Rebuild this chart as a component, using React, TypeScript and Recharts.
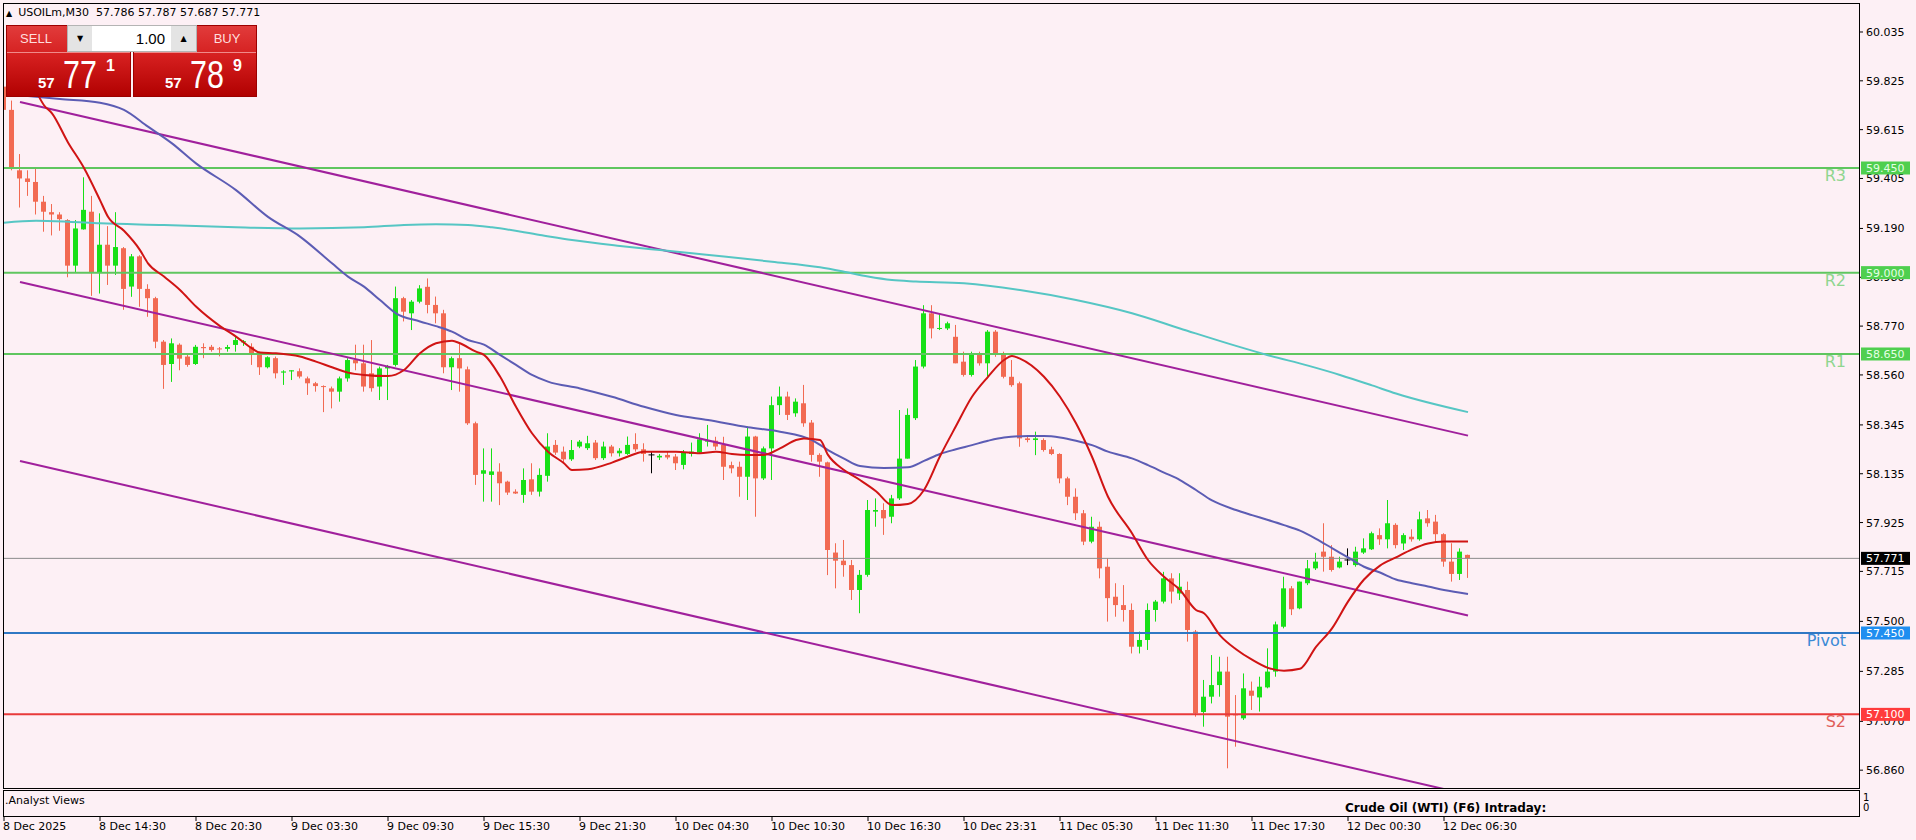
import React from 'react'
import { ComposedChart, Bar, Line, XAxis, YAxis, ReferenceLine } from 'recharts'

// USOILm M30 candles, bar 0 = 8 Dec 08:30
const OPEN = [
  59.80, 59.70, 59.44, 59.405, 59.39, 59.305, 59.26, 59.25, 59.226, 59.03,
  59.186, 59.262, 59.0, 59.12, 59.03, 59.105, 58.94, 59.07, 58.93, 58.89,
  58.703, 58.607, 58.69, 58.639, 58.607, 58.68, 58.681, 58.674, 58.672, 58.689,
  58.70, 58.681, 58.646, 58.593, 58.632, 58.57, 58.575, 58.576, 58.545, 58.524,
  58.512, 58.502, 58.488, 58.545, 58.624, 58.61, 58.567, 58.51, 58.588, 58.603,
  58.89, 58.825, 58.875, 58.939, 58.861, 58.825, 58.593, 58.632, 58.584, 58.352,
  58.135, 58.13, 58.144, 58.101, 58.058, 58.044, 58.111, 58.058, 58.126, 58.259,
  58.23, 58.197, 58.252, 58.245, 58.269, 58.202, 58.252, 58.223, 58.22, 58.263,
  58.24, 58.216, 58.205, 58.216, 58.209, 58.173, 58.22, 58.226, 58.273, 58.277,
  58.259, 58.172, 58.165, 58.122, 58.295, 58.115, 58.244, 58.43, 58.467, 58.395,
  58.438, 58.355, 58.216, 58.184, 57.796, 57.761, 57.742, 57.635, 57.70, 57.972,
  57.979, 57.95, 58.029, 58.20, 58.374, 58.596, 58.825, 58.76, 58.76, 58.724,
  58.617, 58.56, 58.646, 58.61, 58.746, 58.653, 58.552, 58.524, 58.287, 58.28,
  58.28, 58.24, 58.22, 58.115, 58.036, 57.965, 57.843, 57.907, 57.735, 57.606,
  57.57, 57.549, 57.391, 57.42, 57.549, 57.585, 57.685, 57.62, 57.635, 57.456,
  57.11, 57.176, 57.226, 57.284, 57.10, 57.083, 57.202, 57.173, 57.216, 57.284,
  57.477, 57.642, 57.556, 57.664, 57.728, 57.80, 57.778, 57.732, 57.764, 57.742,
  57.796, 57.81, 57.871, 57.853, 57.915, 57.835, 57.864, 57.853, 57.943, 57.929,
  57.875, 57.757, 57.704, 57.786,
]
const HIGH = [
  59.86, 59.74, 59.51, 59.44, 59.45, 59.33, 59.295, 59.26, 59.23, 59.226,
  59.41, 59.33, 59.255, 59.20, 59.26, 59.11, 59.08, 59.075, 58.95, 58.896,
  58.71, 58.717, 58.696, 58.646, 58.689, 58.696, 58.689, 58.68, 58.689, 58.725,
  58.71, 58.696, 58.66, 58.64, 58.639, 58.58, 58.58, 58.588, 58.553, 58.53,
  58.515, 58.51, 58.553, 58.632, 58.69, 58.69, 58.71, 58.596, 58.603, 58.94,
  58.896, 58.882, 58.946, 58.975, 58.897, 58.84, 58.639, 58.696, 58.596, 58.359,
  58.244, 58.244, 58.18, 58.105, 58.068, 58.158, 58.18, 58.158, 58.309, 58.28,
  58.252, 58.28, 58.28, 58.298, 58.28, 58.273, 58.259, 58.245, 58.295, 58.309,
  58.266, 58.23, 58.22, 58.23, 58.22, 58.237, 58.269, 58.309, 58.345, 58.294,
  58.294, 58.187, 58.187, 58.338, 58.298, 58.252, 58.467, 58.51, 58.488, 58.459,
  58.517, 58.366, 58.223, 58.187, 57.836, 57.85, 57.764, 57.721, 58.022, 58.029,
  58.008, 58.044, 58.409, 58.416, 58.624, 58.86, 58.86, 58.825, 58.789, 58.775,
  58.66, 58.66, 58.66, 58.753, 58.753, 58.66, 58.624, 58.531, 58.30, 58.316,
  58.287, 58.251, 58.223, 58.122, 58.072, 57.979, 57.95, 57.929, 57.771, 57.664,
  57.656, 57.577, 57.456, 57.577, 57.592, 57.713, 57.707, 57.707, 57.671, 57.463,
  57.248, 57.355, 57.348, 57.348, 57.183, 57.276, 57.241, 57.262, 57.384, 57.499,
  57.692, 57.652, 57.671, 57.764, 57.795, 57.922, 57.828, 57.778, 57.814, 57.821,
  57.857, 57.886, 57.90, 58.022, 57.922, 57.879, 57.896, 57.972, 57.979, 57.958,
  57.879, 57.836, 57.814, 57.787,
]
const LOW = [
  59.69, 59.44, 59.28, 59.33, 59.25, 59.176, 59.16, 59.18, 58.98, 59.0,
  59.185, 58.90, 58.91, 58.947, 58.99, 58.84, 58.896, 58.853, 58.81, 58.675,
  58.50, 58.53, 58.58, 58.595, 58.603, 58.632, 58.66, 58.64, 58.66, 58.66,
  58.685, 58.603, 58.56, 58.588, 58.545, 58.517, 58.538, 58.545, 58.474, 58.488,
  58.40, 58.416, 58.445, 58.531, 58.58, 58.488, 58.488, 58.452, 58.452, 58.596,
  58.79, 58.753, 58.868, 58.825, 58.782, 58.567, 58.495, 58.488, 58.345, 58.087,
  58.015, 58.015, 58.0, 58.044, 58.048, 58.01, 58.044, 58.037, 58.101, 58.216,
  58.18, 58.19, 58.245, 58.237, 58.194, 58.194, 58.209, 58.209, 58.216, 58.23,
  58.187, 58.137, 58.194, 58.197, 58.151, 58.154, 58.209, 58.22, 58.252, 58.237,
  58.108, 58.137, 58.036, 58.022, 57.95, 58.108, 58.108, 58.388, 58.366, 58.38,
  58.337, 58.187, 58.122, 57.699, 57.642, 57.692, 57.592, 57.535, 57.692, 57.907,
  57.872, 57.922, 58.022, 58.20, 58.366, 58.588, 58.717, 58.753, 58.753, 58.61,
  58.553, 58.553, 58.60, 58.552, 58.638, 58.545, 58.509, 58.251, 58.27, 58.215,
  58.23, 58.215, 58.094, 58.0, 57.936, 57.828, 57.836, 57.685, 57.499, 57.52,
  57.499, 57.362, 57.362, 57.377, 57.499, 57.577, 57.577, 57.592, 57.413, 57.09,
  57.047, 57.147, 57.176, 56.868, 56.961, 57.076, 57.119, 57.112, 57.212, 57.262,
  57.47, 57.527, 57.552, 57.656, 57.721, 57.714, 57.714, 57.728, 57.742, 57.735,
  57.79, 57.807, 57.829, 57.814, 57.814, 57.807, 57.843, 57.847, 57.907, 57.843,
  57.735, 57.671, 57.678, 57.687,
]
const CLOSE = [
  59.70, 59.45, 59.405, 59.39, 59.305, 59.262, 59.25, 59.23, 59.03, 59.19,
  59.27, 59.0, 59.12, 59.03, 59.11, 58.93, 59.07, 58.93, 58.89, 58.703,
  58.603, 58.696, 58.63, 58.603, 58.681, 58.675, 58.667, 58.67, 58.68, 58.71,
  58.705, 58.653, 58.593, 58.636, 58.567, 58.575, 58.58, 58.553, 58.524, 58.512,
  58.508, 58.488, 58.545, 58.624, 58.61, 58.51, 58.503, 58.588, 58.596, 58.89,
  58.832, 58.875, 58.932, 58.861, 58.825, 58.593, 58.632, 58.588, 58.352, 58.13,
  58.15, 58.145, 58.094, 58.054, 58.05, 58.108, 58.058, 58.13, 58.252, 58.226,
  58.197, 58.237, 58.273, 58.266, 58.202, 58.252, 58.223, 58.234, 58.259, 58.24,
  58.22, 58.216, 58.212, 58.205, 58.18, 58.226, 58.23, 58.283, 58.28, 58.252,
  58.165, 58.158, 58.122, 58.295, 58.115, 58.244, 58.43, 58.467, 58.388, 58.445,
  58.352, 58.216, 58.187, 57.807, 57.761, 57.742, 57.635, 57.70, 57.979, 57.979,
  57.943, 58.029, 58.20, 58.388, 58.596, 58.825, 58.76, 58.762, 58.782, 58.61,
  58.56, 58.653, 58.61, 58.746, 58.653, 58.552, 58.516, 58.287, 58.28, 58.287,
  58.237, 58.22, 58.115, 58.036, 57.965, 57.843, 57.907, 57.728, 57.60, 57.57,
  57.549, 57.391, 57.42, 57.549, 57.585, 57.685, 57.628, 57.649, 57.463, 57.104,
  57.176, 57.226, 57.284, 57.09, 57.098, 57.212, 57.18, 57.219, 57.284, 57.487,
  57.642, 57.552, 57.671, 57.728, 57.757, 57.778, 57.721, 57.757, 57.764, 57.80,
  57.814, 57.879, 57.853, 57.922, 57.828, 57.871, 57.853, 57.939, 57.922, 57.875,
  57.757, 57.704, 57.80, 57.771,
]

// moving averages as [bar, price]
const MA_FAST = [
  [2, 59.9], [4, 59.78], [5, 59.72], [6, 59.685], [8, 59.56], [10, 59.45], [12, 59.312],
  [13, 59.24], [15, 59.18], [17, 59.097], [18, 59.04], [20, 58.983], [22, 58.925],
  [24, 58.854], [27, 58.77], [29, 58.725], [31, 58.674], [32, 58.656], [34, 58.653],
  [37, 58.639], [39, 58.617], [41, 58.593], [43, 58.57], [45, 58.56], [48, 58.555],
  [50, 58.581], [52, 58.653], [54, 58.696], [56, 58.707], [57, 58.696], [59, 58.66],
  [60, 58.646], [62, 58.553], [64, 58.423], [66, 58.309], [68, 58.23], [70, 58.18],
  [71, 58.151], [73, 58.154], [76, 58.183], [78, 58.209], [80, 58.23], [84, 58.23],
  [87, 58.223], [89, 58.23], [91, 58.22], [93, 58.216], [95, 58.216], [97, 58.244],
  [99, 58.28], [100, 58.287], [102, 58.28], [103, 58.216], [105, 58.151], [107, 58.108],
  [109, 58.06], [111, 58.0], [113, 58.005], [115, 58.065], [117, 58.21], [119, 58.34],
  [121, 58.466], [123, 58.552], [125, 58.624], [126, 58.641], [127, 58.63], [130, 58.552],
  [132, 58.466], [134, 58.352], [136, 58.208], [138, 58.036], [141, 57.879], [143, 57.764],
  [145, 57.692], [147, 57.635], [149, 57.549], [150, 57.535], [152, 57.44], [154, 57.38],
  [156, 57.335], [158, 57.30], [160, 57.288], [162, 57.296], [164, 57.39], [166, 57.47],
  [168, 57.585], [170, 57.68], [172, 57.74], [174, 57.775], [176, 57.81], [178, 57.835],
  [180, 57.843], [183, 57.843],
]
const MA_MID = [
  [3, 59.76], [7, 59.747], [12, 59.731], [15, 59.70], [18, 59.628], [21, 59.556],
  [24, 59.47], [29, 59.355], [33, 59.24], [37, 59.155], [41, 59.04], [43, 58.983],
  [45, 58.94], [47, 58.882], [49, 58.825], [52, 58.79], [54, 58.77], [56, 58.746],
  [58, 58.71], [60, 58.69], [62, 58.646], [64, 58.603], [66, 58.56], [68, 58.531],
  [72, 58.502], [76, 58.466], [80, 58.423], [84, 58.388], [88, 58.366], [93, 58.335],
  [97, 58.316], [101, 58.28], [103, 58.237], [105, 58.2], [107, 58.168], [110, 58.16],
  [113, 58.163], [115, 58.19], [117, 58.22], [119, 58.24], [121, 58.258], [123, 58.277],
  [125, 58.291], [128, 58.297], [130, 58.297], [132, 58.291], [134, 58.277], [136, 58.258],
  [138, 58.23], [141, 58.201], [143, 58.172], [145, 58.14], [147, 58.108], [149, 58.065],
  [151, 58.02], [154, 57.979], [156, 57.957], [158, 57.936], [160, 57.914], [162, 57.89],
  [164, 57.855], [166, 57.815], [168, 57.775], [170, 57.735], [172, 57.71], [174, 57.68],
  [176, 57.664], [178, 57.65], [180, 57.635], [183, 57.618],
]
const MA_SLOW = [
  [0, 59.215], [4, 59.223], [8, 59.219], [12, 59.212], [20, 59.205], [29, 59.195],
  [37, 59.19], [45, 59.195], [50, 59.205], [54, 59.208], [58, 59.205], [61, 59.195],
  [67, 59.162], [71, 59.14], [77, 59.115], [82, 59.097], [86, 59.083], [90, 59.069],
  [96, 59.047], [102, 59.023], [105, 59.004], [108, 58.983], [111, 58.968], [114, 58.962],
  [120, 58.954], [127, 58.925], [134, 58.882], [141, 58.825], [147, 58.76], [154, 58.685],
  [158, 58.645], [163, 58.60], [167, 58.56], [171, 58.515], [174, 58.48], [183, 58.40],
]

// regression channel end points [bar, price]
const CH_UPPER = [[2, 59.734], [183, 58.299]]
const CH_MIDDLE = [[2, 58.96], [183, 57.525]]
const CH_LOWER = [[2, 58.19], [183, 56.755]]

const LEVEL_NAMES = ['R3', 'R2', 'R1', 'Pivot', 'S2']
const LEVEL_PRICES = [59.45, 59.0, 58.65, 57.45, 57.1]
const LAST_PRICE = 57.771

const Y_TICKS = [60.035, 59.825, 59.615, 59.405, 59.19, 58.98, 58.77, 58.56, 58.345,
  58.135, 57.925, 57.715, 57.5, 57.285, 57.07, 56.86]
const X_TICKS = [0, 12, 24, 36, 48, 60, 72, 84, 96, 108, 120, 132, 144, 156, 168, 180]
const X_LABELS = ['8 Dec 2025', '8 Dec 14:30', '8 Dec 20:30', '9 Dec 03:30', '9 Dec 09:30',
  '9 Dec 15:30', '9 Dec 21:30', '10 Dec 04:30', '10 Dec 10:30', '10 Dec 16:30',
  '10 Dec 23:31', '11 Dec 05:30', '11 Dec 11:30', '11 Dec 17:30', '12 Dec 00:30', '12 Dec 06:30']

const BG = '#fdf0f5'
const BULL = '#17e017'
const BEAR = '#f26a52'
const FONT = '"DejaVu Sans", Tahoma, sans-serif'

const LEVEL_STYLE: Record<string, { line: string; tag: string; text: string; name: string }> = {
  R3: { line: '#5fc65f', tag: '#4fcf4f', text: '#e4ffe4', name: '#8fd68f' },
  R2: { line: '#5fc65f', tag: '#4fcf4f', text: '#e4ffe4', name: '#8fd68f' },
  R1: { line: '#5fc65f', tag: '#4fcf4f', text: '#e4ffe4', name: '#8fd68f' },
  Pivot: { line: '#2f78c4', tag: '#1f8ef0', text: '#ffffff', name: '#3b8ad6' },
  S2: { line: '#e83a3a', tag: '#ff3b3b', text: '#ffffff', name: '#e0605a' },
}

const rows: any[] = OPEN.map((o, i) => ({ i, o, h: HIGH[i], l: LOW[i], c: CLOSE[i] }))
const put = (key: string, pts: number[][]) => pts.forEach(([i, v]) => { rows[i][key] = v })
put('fast', MA_FAST)
put('mid', MA_MID)
put('slow', MA_SLOW)
put('chU', CH_UPPER)
put('chM', CH_MIDDLE)
put('chL', CH_LOWER)

function Candle(props: any) {
  const { x, y, width, height, payload } = props
  if (x == null || !payload) return null
  const { o, h, l, c } = payload
  const top = Math.min(y, y + height)
  const bot = Math.max(y, y + height)
  const span = h - l
  const py = (v: number) => (span > 0 ? top + ((h - v) / span) * (bot - top) : top)
  const cx = Math.floor(x + width / 2) + 0.5
  const doji = o === c
  const col = doji ? '#000' : c > o ? BULL : BEAR
  const yo = py(o)
  const yc = py(c)
  return (
    <g>
      <line x1={cx} x2={cx} y1={top} y2={bot} stroke={col} strokeWidth={1} />
      {doji ? (
        <line x1={cx - 3} x2={cx + 3} y1={yo} y2={yo} stroke={col} strokeWidth={1} />
      ) : (
        <rect x={cx - 2.5} y={Math.min(yo, yc)} width={5} height={Math.max(1, Math.abs(yc - yo))} fill={col} />
      )}
    </g>
  )
}

// price axis: ordinary ticks plus coloured price tags for the levels (drawn last, on top)
function YTick({ x, y, payload }: any) {
  const v = Number(payload.value)
  const k = LEVEL_PRICES.indexOf(v)
  if (k >= 0 || v === LAST_PRICE) {
    const s = k >= 0 ? LEVEL_STYLE[LEVEL_NAMES[k]] : { tag: '#000', text: '#fff' }
    return (
      <g>
        <rect x={x + 2} y={y - 6.5} width={49} height={13} fill={s.tag} />
        <text x={x + 7} y={y + 4} fontSize={11} fontFamily={FONT} fill={s.text}>{v.toFixed(3)}</text>
      </g>
    )
  }
  return (
    <g>
      <line x1={x} x2={x + 4} y1={y} y2={y} stroke="#000" />
      <text x={x + 7} y={y + 4} fontSize={11} fontFamily={FONT} fill="#000">{v.toFixed(3)}</text>
    </g>
  )
}

function XTick({ x, y, payload }: any) {
  const label = X_LABELS[X_TICKS.indexOf(payload.value)]
  return (
    <g>
      <line x1={x} x2={x} y1={y + 29} y2={y + 33} stroke="#000" />
      <text x={x - 1} y={y + 42} fontSize={11} fontFamily={FONT} fill="#000">{label}</text>
    </g>
  )
}

const levelName = (name: string, color: string) => (props: any) => {
  const vb = props.viewBox || {}
  return (
    <text x={vb.x + vb.width - 13} y={vb.y + 13} textAnchor="end" fontSize={16} fontFamily={FONT} fill={color}>
      {name}
    </text>
  )
}

const abs = (s: React.CSSProperties): React.CSSProperties => ({ position: 'absolute', ...s })

function Price({ left, big, sup }: { left: number; big: string; sup: string }) {
  return (
    <>
      <span style={abs({ left, top: 50, fontSize: 15, lineHeight: '15px', fontWeight: 'bold', color: '#fff', fontFamily: '"Liberation Sans", Arial' })}>57</span>
      <span style={abs({ left: left + 25, top: 30, fontSize: 39, lineHeight: '39px', color: '#fff', fontFamily: '"Liberation Sans", Arial', transform: 'scaleX(0.78)', transformOrigin: 'left' })}>{big}</span>
      <span style={abs({ left: left + 68, top: 33, fontSize: 16, lineHeight: '16px', fontWeight: 'bold', color: '#fff', fontFamily: '"Liberation Sans", Arial' })}>{sup}</span>
    </>
  )
}

function TradePanel() {
  const panel = (left: number, width: number): React.CSSProperties =>
    abs({ left, top: 25, width, height: 72, background: 'linear-gradient(#e23c3c 0%, #d41e1e 45%, #b00000 100%)', boxShadow: 'inset 0 0 0 1px #9c0000' })
  const sideText: React.CSSProperties = { color: '#ffdede', fontSize: 13, fontFamily: '"Liberation Sans", Arial', textAlign: 'center', lineHeight: '27px' }
  return (
    <>
      <div style={panel(6, 125)}>
        <div style={abs({ left: 0, top: 0, width: 60, height: 27, ...sideText })}>SELL</div>
        <div style={abs({ left: 1, top: 27, width: 123, height: 1, background: '#f08a8a' })} />
        <Price left={32} big="77" sup="1" />
      </div>
      <div style={panel(133, 124)}>
        <div style={abs({ left: 64, top: 0, width: 60, height: 27, ...sideText })}>BUY</div>
        <div style={abs({ left: 1, top: 27, width: 122, height: 1, background: '#f08a8a' })} />
        <Price left={32} big="78" sup="9" />
      </div>
      <div style={abs({ left: 67, top: 25, width: 130, height: 27, background: '#fff', boxShadow: 'inset 0 0 0 1px #b4b4b4' })}>
        <div style={abs({ left: 1, top: 1, width: 24, height: 25, background: '#e4e4e4', fontSize: 8, textAlign: 'center', lineHeight: '25px' })}>▼</div>
        <div style={abs({ left: 104, top: 1, width: 25, height: 25, background: '#e4e4e4', fontSize: 8, textAlign: 'center', lineHeight: '25px' })}>▲</div>
        <div style={abs({ left: 30, top: 5, width: 68, textAlign: 'right', fontSize: 15, lineHeight: '17px', fontFamily: '"Liberation Sans", Arial' })}>1.00</div>
      </div>
    </>
  )
}

export default function App() {
  return (
    <div style={abs({ left: 0, top: 0, width: 1916, height: 840, background: BG, overflow: 'hidden', fontFamily: FONT })}>
      <ComposedChart width={1916} height={840} data={rows} margin={{ top: 3, right: 0, bottom: 0, left: 3 }}>
        <XAxis
          dataKey="i"
          type="number"
          domain={[-0.125, 231.875]}
          allowDataOverflow
          ticks={X_TICKS}
          interval={0}
          height={52}
          axisLine={false}
          tickLine={false}
          tickSize={0}
          tickMargin={0}
          tick={<XTick />}
        />
        <YAxis
          orientation="right"
          width={57}
          domain={[56.7833, 60.1597]}
          allowDataOverflow
          ticks={[...Y_TICKS, LAST_PRICE, ...LEVEL_PRICES]}
          interval={0}
          axisLine={false}
          tickLine={false}
          tickSize={0}
          tickMargin={0}
          tick={<YTick />}
        />
        <ReferenceLine y={LAST_PRICE} stroke="#8c8c8c" strokeWidth={1} />
        {LEVEL_NAMES.map((n, k) => (
          <ReferenceLine key={n} y={LEVEL_PRICES[k]} stroke={LEVEL_STYLE[n].line} strokeWidth={2}
            label={levelName(n, LEVEL_STYLE[n].name)} />
        ))}
        <Bar dataKey={(d: any) => [d.l, d.h]} barSize={5} shape={(p: any) => <Candle {...p} />} isAnimationActive={false} />
        <Line dataKey="chU" type="linear" stroke="#a0209c" strokeWidth={2} dot={false} activeDot={false} connectNulls isAnimationActive={false} />
        <Line dataKey="chM" type="linear" stroke="#a0209c" strokeWidth={2} dot={false} activeDot={false} connectNulls isAnimationActive={false} />
        <Line dataKey="chL" type="linear" stroke="#a0209c" strokeWidth={2} dot={false} activeDot={false} connectNulls isAnimationActive={false} />
        <Line dataKey="slow" type="monotone" stroke="#56c6c4" strokeWidth={2} dot={false} activeDot={false} connectNulls isAnimationActive={false} />
        <Line dataKey="mid" type="monotone" stroke="#5c5cb4" strokeWidth={2} dot={false} activeDot={false} connectNulls isAnimationActive={false} />
        <Line dataKey="fast" type="monotone" stroke="#d01414" strokeWidth={2} dot={false} activeDot={false} connectNulls isAnimationActive={false} />
      </ComposedChart>

      {/* window frames */}
      <div style={abs({ left: 3, top: 3, width: 1857, height: 786, border: '1px solid #000', boxSizing: 'border-box', pointerEvents: 'none' })} />
      <div style={abs({ left: 3, top: 790, width: 1857, height: 27, border: '1px solid #000', boxSizing: 'border-box', pointerEvents: 'none' })} />

      {/* sub window */}
      <div style={abs({ left: 5, top: 794, fontSize: 11, lineHeight: '13px', color: '#000' })}>.Analyst Views</div>
      <div style={abs({ left: 1345, top: 802, fontSize: 12, lineHeight: '13px', fontWeight: 'bold', color: '#000', whiteSpace: 'pre' })}>
        Crude Oil (WTI) (F6) Intraday:
      </div>
      <div style={abs({ left: 1863, top: 793, fontSize: 10, lineHeight: '10px', color: '#000' })}>1<br />0</div>

      {/* header */}
      <div style={abs({ left: 6, top: 5, fontSize: 11, lineHeight: '15px', color: '#000', whiteSpace: 'pre' })}>
        <span style={{ fontSize: 8, marginRight: 6 }}>▲</span>USOILm,M30  57.786 57.787 57.687 57.771
      </div>

      <TradePanel />
    </div>
  )
}
